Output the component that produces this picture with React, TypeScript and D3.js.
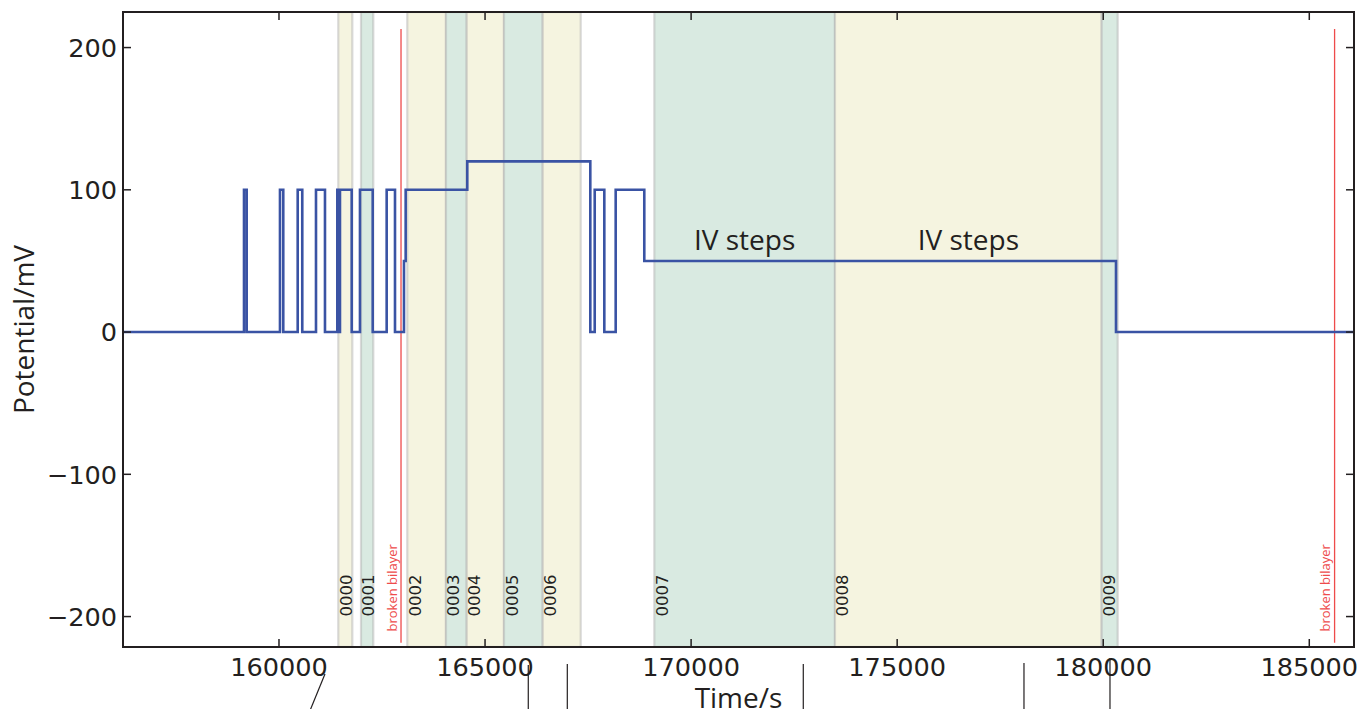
import React from "react";
import * as d3 from "d3";

const W = 1363;
const H = 709;
const M = { left: 123, right: 1354, top: 12, bottom: 647 };

// Voltage protocol: the voltage switches to stepVolts[i] at stepTimes[i]
const stepTimes = [156215, 159151, 159216, 160024, 160104, 160454, 160565, 160898, 161116, 161415, 161444, 161480, 161764, 161965, 162274, 162613, 162815, 163033, 163074, 164569, 167554, 167661, 167894, 168170, 168864, 180310, 186085];
const stepVolts = [0, 100, 0, 100, 0, 100, 0, 100, 0, 100, 0, 100, 0, 100, 0, 100, 0, 50, 100, 120, 0, 100, 0, 100, 50, 0, 0];

// Recording segments
const segNames = ["0000", "0001", "0002", "0003", "0004", "0005", "0006", "0007", "0008", "0009"];
const segStart = [161439, 161990, 163113, 164052, 164555, 165460, 166399, 169107, 173491, 179963];
const segEnd = [161779, 162288, 164052, 164555, 165460, 166399, 167321, 173491, 179963, 180351];
const segKind = ["y", "g", "y", "g", "y", "g", "y", "g", "y", "g"];

// Event markers
const eventTimes = [162961, 185614];
const eventLabels = ["broken bilayer", "broken bilayer"];

// IV steps annotations (segment indices)
const ivSegments = [7, 8];
const ivLabel = "IV steps";

// Leader lines below the axis (time at start, time at 20px below the picture, pixel offset of start below axis)
const leaderTop = [161116, 166049, 166996, 172722, 178077, 180164];
const leaderBottom = [160570, 166049, 166996, 172722, 178077, 180164];
const leaderStartOffset = [27, 18, 17, 17, 16, 11];

const xTicks = [160000, 165000, 170000, 175000, 180000, 185000];
const yTicks = [-200, -100, 0, 100, 200];

const xDomain: [number, number] = [156215, 186085];
const yDomain: [number, number] = [-221.4, 225];

const ink = "#231f20";
const blue = "#3a53a4";
const red = "#ee4b4b";
const fillY = "#f5f4e0";
const fillG = "#d9eae1";

export default function App() {
  const x = d3.scaleLinear().domain(xDomain).range([M.left, M.right]);
  const y = d3.scaleLinear().domain(yDomain).range([M.bottom, M.top]);
  const pts: [number, number][] = stepTimes.map((t, i) => [t, stepVolts[i]]);
  const line = d3
    .line<[number, number]>()
    .x((d) => x(d[0]))
    .y((d) => y(d[1]))
    .curve(d3.curveStepAfter);
  const fmt = (v: number) => (v < 0 ? "\u2212" + Math.abs(v) : String(v));
  const tickLen = 8;
  const yEnd = H + 20;

  return (
    <svg
      width={W}
      height={H}
      viewBox={`0 0 ${W} ${H}`}
      style={{ position: "absolute", left: 0, top: 0, display: "block", background: "#fff" }}
    >
      <defs>
        <clipPath id="plot">
          <rect x={M.left} y={M.top} width={M.right - M.left} height={M.bottom - M.top} />
        </clipPath>
      </defs>
      {/* spans */}
      <g clipPath="url(#plot)">
        {segNames.map((n, i) => (
          <rect
            key={n}
            x={x(segStart[i])}
            y={M.top}
            width={x(segEnd[i]) - x(segStart[i])}
            height={M.bottom - M.top}
            fill={segKind[i] === "y" ? fillY : fillG}
            stroke="#b4b4b4"
            strokeOpacity={0.5}
            strokeWidth={2.2}
          />
        ))}
        {eventTimes.map((t, i) => (
          <line key={"ev" + i} x1={x(t)} x2={x(t)} y1={y(213)} y2={y(-218.5)} stroke={red} strokeWidth={1.3} />
        ))}
        <path d={line(pts) || ""} fill="none" stroke={blue} strokeWidth={2.6} strokeLinejoin="miter" />
      </g>

      {/* segment labels */}
      {segNames.map((n, i) => (
        <text
          key={"l" + n}
          transform={`translate(${x(segStart[i]) + 1.5},${y(-200)}) rotate(-90)`}
          fontFamily="DejaVu Sans"
          fontSize={16.5}
          fill={ink}
          dominantBaseline="hanging"
        >
          {n}
        </text>
      ))}
      {eventTimes.map((t, i) => (
        <text
          key={"et" + i}
          transform={`translate(${x(t) - 4.5},${y(-210.5)}) rotate(-90)`}
          fontFamily="Open Sans"
          fontSize={13}
          fill={red}
        >
          {eventLabels[i]}
        </text>
      ))}
      {ivSegments.map((s, i) => (
        <text
          key={"iv" + i}
          x={x((segStart[s] + segEnd[s]) / 2)}
          y={y(57.5)}
          textAnchor="middle"
          fontFamily="Open Sans"
          fontSize={28}
          fill={ink}
        >
          {ivLabel}
        </text>
      ))}

      {/* ticks */}
      {xTicks.map((t) => (
        <g key={"xt" + t}>
          <line x1={x(t)} x2={x(t)} y1={M.bottom} y2={M.bottom - tickLen} stroke={ink} strokeWidth={1.5} />
          <line x1={x(t)} x2={x(t)} y1={M.top} y2={M.top + tickLen} stroke={ink} strokeWidth={1.5} />
          <text x={x(t)} y={M.bottom + 29} textAnchor="middle" fontFamily="DejaVu Sans" fontSize={25.6} fill={ink}>
            {fmt(t)}
          </text>
        </g>
      ))}
      {yTicks.map((v) => (
        <g key={"yt" + v}>
          <line x1={M.left} x2={M.left + tickLen} y1={y(v)} y2={y(v)} stroke={ink} strokeWidth={1.5} />
          <line x1={M.right} x2={M.right - tickLen} y1={y(v)} y2={y(v)} stroke={ink} strokeWidth={1.5} />
          <text x={M.left - 6} y={y(v) + 9.3} textAnchor="end" fontFamily="DejaVu Sans" fontSize={25.6} fill={ink}>
            {fmt(v)}
          </text>
        </g>
      ))}

      {/* frame */}
      <rect
        x={M.left}
        y={M.top}
        width={M.right - M.left}
        height={M.bottom - M.top}
        fill="none"
        stroke={ink}
        strokeWidth={2}
      />

      {/* leader lines below axis */}
      {leaderTop.map((t, i) => (
        <line
          key={"ld" + i}
          x1={x(t)}
          y1={M.bottom + leaderStartOffset[i]}
          x2={x(leaderBottom[i])}
          y2={yEnd}
          stroke={ink}
          strokeWidth={1.2}
        />
      ))}

      {/* axis labels */}
      <text
        x={(M.left + M.right) / 2}
        y={H - 1}
        textAnchor="middle"
        fontFamily="Open Sans"
        fontSize={28}
        fill={ink}
      >
        Time/s
      </text>
      <text
        transform={`translate(33.5,${(M.top + M.bottom) / 2}) rotate(-90)`}
        textAnchor="middle"
        fontFamily="Open Sans"
        fontSize={28}
        fill={ink}
      >
        Potential/mV
      </text>
    </svg>
  );
}
